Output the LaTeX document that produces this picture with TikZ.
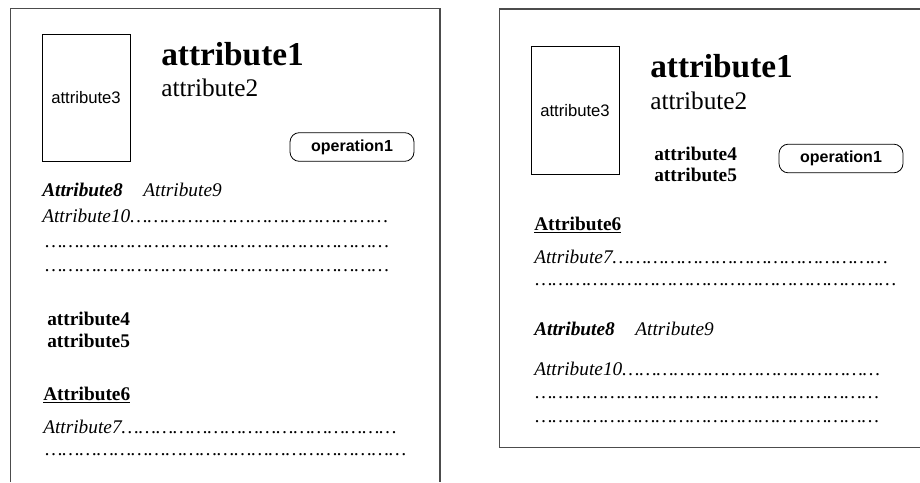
\documentclass[tikz,border=0pt]{standalone}
\usepackage{fontspec}
\setmainfont{Liberation Serif}
\setsansfont{Liberation Sans}
\usetikzlibrary{positioning}

% a run of ellipsis characters
\newcommand{\dotrun}[1]{\foreach\k in {1,...,#1}{…}}

\begin{document}
\begin{tikzpicture}[
    x=0.75pt, y=-0.75pt,
    panel/.style={
        draw=black!70,
        line width=1pt
    },
    photo/.style={
        rectangle,
        draw,
        line width=0.6pt,
        minimum width=66pt,
        minimum height=95.5pt,
        font=\sffamily\fontsize{12.5}{15}\selectfont
    },
    opbox/.style={
        rectangle,
        draw,
        rounded corners=7pt,
        line width=0.6pt,
        minimum width=93pt,
        minimum height=21.5pt,
        font=\sffamily\bfseries\fontsize{12}{14}\selectfont
    },
    title/.style={anchor=base west, inner sep=0pt, font=\bfseries\fontsize{25}{29}\selectfont},
    subtitle/.style={anchor=base west, inner sep=0pt, font=\fontsize{19}{22}\selectfont},
    txt/.style={anchor=base west, inner sep=0pt, font=\fontsize{14.5}{17}\selectfont}
]

\useasboundingbox (0,0) rectangle (920,482);

% left card
\draw[panel] (10.5,482) -- (10.5,8.5) -- (440,8.5) -- (440,482);

\node[photo] (photoL) at (86,98) {attribute3};
\node[title] (nameL) at (161,65) {attribute1};
\node[subtitle] (roleL) at (161,96) {attribute2};
\node[opbox] (opL) at (352,147) {operation1};

\node[txt] (attr8L) at (42,196) {\bfseries\itshape Attribute8};
\node[txt, base right=15pt of attr8L] (attr9L) {\itshape Attribute9};
\node[txt] (attr10L) at (42,222) {\itshape Attribute10\dotrun{15}};
\node[txt] (dotsAL) at (45,247) {\itshape\dotrun{20}};
\node[txt] (dotsBL) at (45,271) {\itshape\dotrun{20}};

\node[txt] (attr4L) at (47,325) {\bfseries attribute4};
\node[txt] (attr5L) at (47,347) {\bfseries attribute5};

\node[txt] (attr6L) at (43,400) {\bfseries\underline{Attribute6}};
\node[txt] (attr7L) at (43,433) {\itshape Attribute7\dotrun{16}};
\node[txt] (dotsCL) at (45,455) {\itshape\dotrun{21}};

% right card
\draw[panel] (920,447.5) -- (499.5,447.5) -- (499.5,9) -- (920,9);

\node[photo] (photoR) at (575,110.5) {attribute3};
\node[title] (nameR) at (650,77) {attribute1};
\node[subtitle] (roleR) at (650,109) {attribute2};
\node[txt] (attr4R) at (654,160) {\bfseries attribute4};
\node[txt] (attr5R) at (654,181) {\bfseries attribute5};
\node[opbox] (opR) at (841,158.5) {operation1};

\node[txt] (attr6R) at (534,230) {\bfseries\underline{Attribute6}};
\node[txt] (attr7R) at (534,263) {\itshape Attribute7\dotrun{16}};
\node[txt] (dotsAR) at (535,285) {\itshape\dotrun{21}};

\node[txt] (attr8R) at (534,335) {\bfseries\itshape Attribute8};
\node[txt, base right=15pt of attr8R] (attr9R) {\itshape Attribute9};
\node[txt] (attr10R) at (534,375) {\itshape Attribute10\dotrun{15}};
\node[txt] (dotsBR) at (535,398) {\itshape\dotrun{20}};
\node[txt] (dotsCR) at (535,422) {\itshape\dotrun{20}};

\end{tikzpicture}
\end{document}
